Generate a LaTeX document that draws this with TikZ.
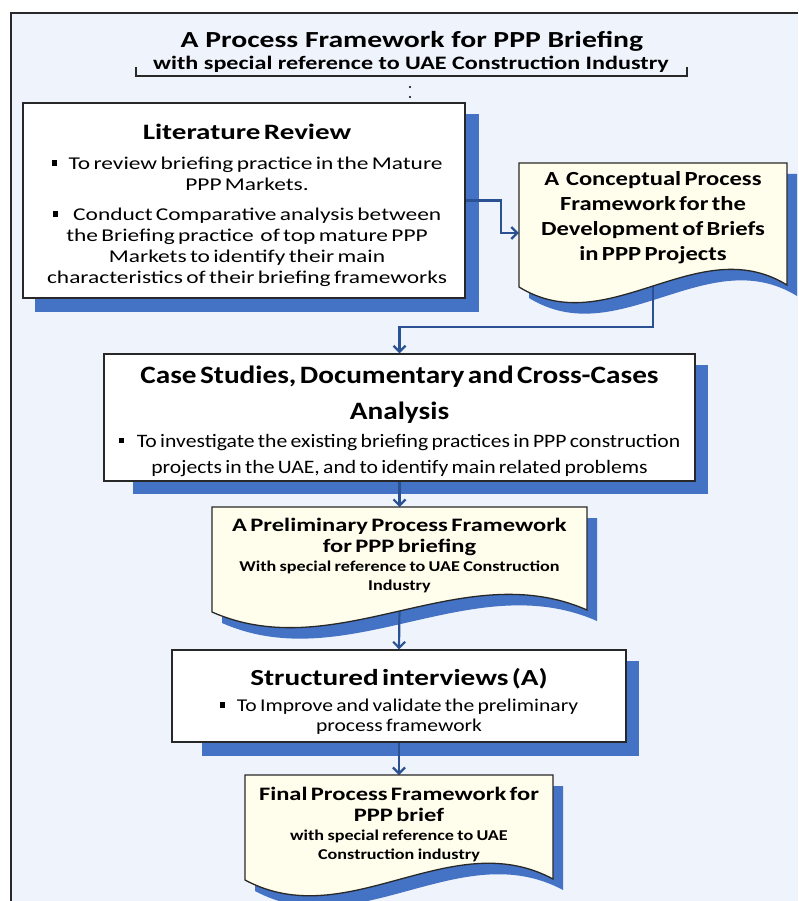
\documentclass[tikz,border=0pt]{standalone}
\usepackage{fontspec}
\setmainfont{Carlito}
\usetikzlibrary{arrows.meta,calc}

\definecolor{framebg}{RGB}{239,243,251}
\definecolor{docfill}{RGB}{255,254,236}
\definecolor{shadowblue}{RGB}{68,114,196}
\definecolor{linkblue}{RGB}{42,82,146}
\definecolor{edge}{RGB}{40,40,40}

\pgfdeclarelayer{shadows}
\pgfdeclarelayer{links}
\pgfdeclarelayer{docs}
\pgfsetlayers{shadows,links,docs,main}

% size, line spacing, horizontal stretch
\newcommand\setf[3]{\fontsize{#1}{#2}\selectfont\addfontfeatures{FakeStretch=#3}}
\newcommand\sqb{\rule[0.22em]{0.3em}{0.3em}\hspace{0.65em}}
% document outline: left x, right x, top y, left end y, right end y, style
\newcommand\docshape[6]{%
  \path[#6] (#1,#3) -- (#2,#3) -- (#2,#5)
    .. controls ({#1+2*(#2-#1)/3},{#5-55}) and ({#1+(#2-#1)/3},{#4+55}) .. (#1,#4) -- cycle;}

\begin{document}
\begin{tikzpicture}[x=1pt,y=-1pt,
  box/.style={draw=edge, line width=1.4pt, fill=white, inner sep=0pt},
  boxtext/.style={inner sep=0pt, align=center},
  doctext/.style={inner xsep=0pt, align=center, anchor=north},
  link/.style={draw=linkblue, line width=2.2pt, -{Straight Barb[length=6pt,width=12pt]}},
  shade/.style={fill=shadowblue}]

\useasboundingbox (0,0) rectangle (798,901);

% title block
\node (title) at (412,41) {\bfseries\setf{23}{28}{1.29}A Process Framework for PPP Briefing};
\node (subtitle) at (411,64) {\bfseries\setf{19}{22}{1.27}with special reference to UAE Construction Industry};

% process boxes
\node[box, minimum width=442pt, minimum height=195pt] (lit) at (244,200.5) {};
\node[boxtext, text width=442pt] (litText) at ($(lit.center)+(3,5)$) {%
  {\bfseries\setf{22}{26}{1.32}Literature Review\par}\vspace{9pt}
  {\setf{18}{21}{1.30}\sqb To review briefing practice in the Mature\\ PPP Markets.\par}\vspace{9pt}
  {\setf{18}{21}{1.30}\sqb\ Conduct Comparative analysis between\\ the Briefing practice\ \ of top mature PPP\\ Markets to identify their main\\ characteristics of their briefing frameworks\par}};

\node[box, minimum width=591pt, minimum height=127pt] (case) at (399.5,417.5) {};
\node[boxtext, text width=591pt] (caseText) at ($(case.center)+(0,4)$) {%
  {\bfseries\setf{25}{36}{1.17}Case Studies, Documentary and Cross-Cases\\ Analysis\par}\vspace{2pt}
  {\setf{19}{26}{1.14}\sqb To investigate the existing briefing practices in PPP construction\\ projects in the UAE, and to identify main related problems\par}};

\node[box, minimum width=454pt, minimum height=92pt] (interv) at (399,696) {};
\node[boxtext, text width=454pt] (intervText) at ($(interv.center)+(0,5.5)$) {%
  {\bfseries\setf{23}{28}{1.27}Structured interviews (A)\par}\vspace{6pt}
  {\setf{18}{20}{1.20}\sqb To Improve and validate the preliminary\\ process framework\par}};

% document shapes
\node[doctext, text width=268pt, inner ysep=8pt] (concept) at (653,163) {%
  \bfseries\setf{20}{25}{1.23}A\ \ Conceptual Process\\ Framework for the\\ Development of Briefs\\ in PPP Projects\par};

\node[doctext, text width=375pt, inner ysep=11pt] (prelim) at (399.5,507) {%
  {\bfseries\setf{19}{21}{1.29}A Preliminary Process Framework\\ for PPP briefing\par}
  {\bfseries\setf{15}{19}{1.21}With special reference to UAE Construction\\ Industry\par}};

\node[doctext, text width=308pt, inner ysep=11.5pt] (final) at (399,775) {%
  {\bfseries\setf{19}{21}{1.29}Final Process Framework for\\ PPP brief\par}
  {\bfseries\setf{15}{19}{1.21}with special reference to UAE\\ Construction industry\par}};

% background frame and shadows
\begin{pgfonlayer}{shadows}
  \fill[framebg] (11,13) rectangle (798,901);
  \draw[edge, line width=1.8pt] (11,901) -- (11,13) -- (798,13);
  \fill[shade] ($(lit.north west)+(13,12)$) rectangle ($(lit.south east)+(13,13)$);
  \fill[shade] ($(case.north west)+(30,12)$) rectangle ($(case.south east)+(12,12)$);
  \fill[shade] ($(interv.north west)+(31,12)$) rectangle ($(interv.south east)+(12,13)$);
  \docshape{519}{787}{163}{287}{285}{shade, shift={(10,11)}}
  \docshape{212}{587}{507}{612}{610}{shade, shift={(10,11)}}
  \docshape{245}{553}{775}{880}{879}{shade, shift={(10,11)}}
\end{pgfonlayer}

\begin{pgfonlayer}{docs}
  \docshape{519}{787}{163}{287}{285}{fill=docfill, draw=edge, line width=1.3pt}
  \docshape{212}{587}{507}{612}{610}{fill=docfill, draw=edge, line width=1.3pt}
  \docshape{245}{553}{775}{880}{879}{fill=docfill, draw=edge, line width=1.3pt}
\end{pgfonlayer}

% bracket under the subtitle
\draw[edge, line width=1.2pt] (136,67) -- (136,76) -- (687,76) -- (687,67);
\fill[black] (410,87) circle (1.1) (410,97) circle (1.1);

% connectors
\begin{pgfonlayer}{links}
  \draw[link] (lit.east) -- ++(35,0) |- ($(concept.north west)+(0,70)$);
  \draw[link] ($(concept.north)+(0,115)$) -- ++(0,49) -| (case.north);
  \draw[link] (case.south) -- (prelim.north);
  \draw[link] ($(prelim.north)+(0,100)$) -- (interv.north);
  \draw[link] (interv.south) -- (final.north);
\end{pgfonlayer}
\end{tikzpicture}
\end{document}
